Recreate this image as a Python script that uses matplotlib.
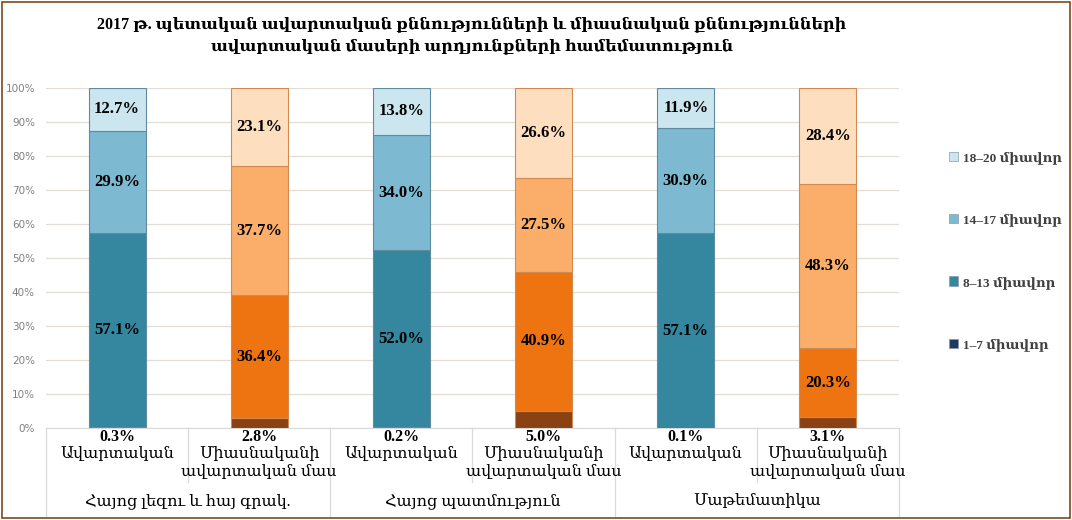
import numpy as np
import matplotlib.pyplot as plt
from matplotlib.patches import Patch, Rectangle

plt.rcParams['font.family'] = ['Liberation Serif', 'DejaVu Serif', 'DejaVu Sans']

# data (percent)
categories = ['Ավարտական', 'Միասնականի\nավարտական մաս'] * 3
groups = ['Հայոց լեզու և հայ գրակ.', 'Հայոց պատմություն', 'Մաթեմատիկա']
series = ['1–7 միավոր', '8–13 միավոր', '14–17 միավոր', '18–20 միավոր']
v_1_7 = [0.3, 2.8, 0.2, 5.0, 0.1, 3.1]
v_8_13 = [57.1, 36.4, 52.0, 40.9, 57.1, 20.3]
v_14_17 = [29.9, 37.7, 34.0, 27.5, 30.9, 48.3]
v_18_20 = [12.7, 23.1, 13.8, 26.6, 11.9, 28.4]

blue = ['#1f3a5f', '#34879e', '#7dbad2', '#cbe6ef']
orange = ['#8a4212', '#ee7311', '#fbad6a', '#fddfc0']

fig = plt.figure(figsize=(10.72, 5.2), dpi=100)
ax = fig.add_axes([0.0429, 0.177, 0.7957, 0.654])

x = np.arange(len(categories))
vals = [v_1_7, v_8_13, v_14_17, v_18_20]
bottom = np.zeros(len(x))
for k, v in enumerate(vals):
    v = np.array(v)
    cols = [blue[k] if i % 2 == 0 else orange[k] for i in range(len(x))]
    edges = ['#5f8aa0' if i % 2 == 0 else '#d08a50' for i in range(len(x))]
    ax.bar(x, v, 0.4, bottom=bottom, color=cols, edgecolor=edges, linewidth=0.8, zorder=3)
    for i in range(len(x)):
        if k == 0:
            ax.text(x[i], -0.2, f'{v[i]:.1f}%', ha='center', va='top', fontsize=11.5,
                    fontweight='bold', color='black', zorder=5)
        else:
            ax.text(x[i], bottom[i] + v[i] / 2, f'{v[i]:.1f}%', ha='center', va='center',
                    fontsize=12, fontweight='bold', color='black', zorder=5)
    bottom += v

ax.set_xlim(-0.5, len(x) - 0.5)
ax.set_ylim(0, 100)
ax.set_yticks(np.arange(0, 101, 10))
ax.set_yticklabels([f'{t}%' for t in range(0, 101, 10)], fontsize=7.5, color='#7f7f7f',
                   family=['DejaVu Sans'])
ax.yaxis.grid(True, color='#e3ddd5', linewidth=0.9, zorder=0)
ax.tick_params(axis='y', length=0, pad=8)
ax.tick_params(axis='x', length=0, labelbottom=False)
for s in ['top', 'right', 'left']:
    ax.spines[s].set_visible(False)
ax.spines['bottom'].set_color('#d9d9d9')

# two-level category axis
tr = ax.get_xaxis_transform()
for i, c in enumerate(categories):
    ax.text(x[i], -0.052, c, transform=tr, ha='center', va='top', fontsize=11.5,
            linespacing=1.2, color='black')
for g, name in enumerate(groups):
    ax.text(2 * g + 0.5, -0.215, name, transform=tr, ha='center', va='center', fontsize=11.5,
            color='black')
for b in np.arange(-0.5, len(x), 1.0):
    long = (b + 0.5) % 2 == 0
    y1 = -0.26 if long else -0.16
    ax.plot([b, b], [0, y1], transform=tr, color='#d9d9d9', lw=0.9, clip_on=False)

# legend
handles = [Patch(facecolor=blue[k], edgecolor='#8a9aaa', linewidth=0.5) for k in range(4)][::-1]
leg = fig.legend(handles, series[::-1], loc='center left', bbox_to_anchor=(0.874, 0.517),
                 frameon=False, labelspacing=3.75, handlelength=0.7, handleheight=0.7,
                 handletextpad=0.4, prop={'size': 9.5, 'weight': 'bold'})
for t in leg.get_texts():
    t.set_color('#404040')

fig.text(0.44, 0.933, '2017 թ. պետական ավարտական քննությունների և միասնական քննությունների\n'
         'ավարտական մասերի արդյունքների համեմատություն', ha='center', va='center',
         fontsize=11.5, fontweight='bold', linespacing=1.5)

fig.patches.append(Rectangle((0.002, 0.003), 0.996, 0.994, transform=fig.transFigure,
                             fill=False, edgecolor='#7a4a20', linewidth=1.2))

fig.savefig('out.png', dpi=100)
